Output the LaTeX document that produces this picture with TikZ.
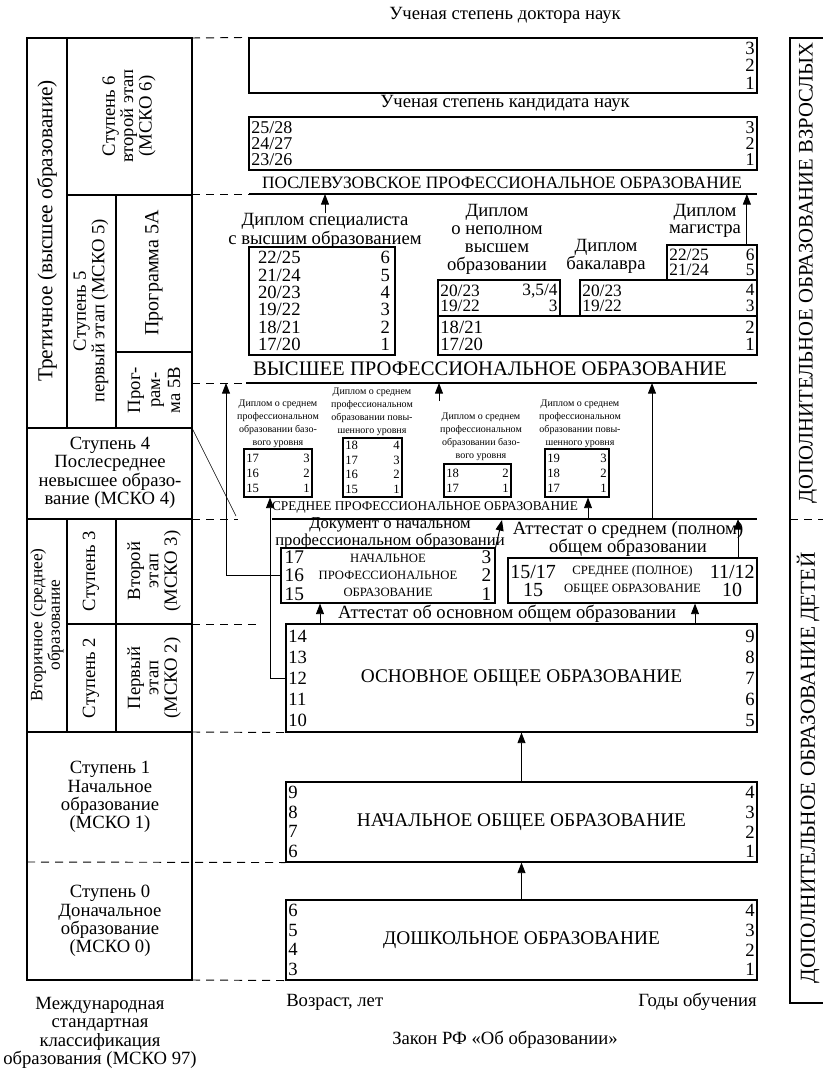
\documentclass[tikz,border=0pt]{standalone}
\usepackage{fontspec}
\setmainfont{Liberation Serif}
\usetikzlibrary{arrows.meta,fit}

\newcommand{\fsz}[2]{\fontsize{#1}{#2}\selectfont}

\tikzset{frame/.style = {draw, line width=0.9pt},
	box/.style   = {draw, line width=0.8pt, inner sep=0pt},
	line/.style  = {draw, line width=0.7pt, -{Triangle[length=8pt,width=6pt]}},
	rule/.style  = {draw, line width=0.8pt},
	sep/.style   = {draw, line width=0.7pt, dash pattern=on 6pt off 4.5pt},
	lab/.style   = {align=center, inner sep=0pt, font=\fsz{14}{13.8}},
	nums/.style  = {align=left, inner sep=2pt, anchor=west},
	numr/.style  = {align=right, inner sep=2pt, anchor=east},
	small/.style = {align=center, inner sep=0pt, font=\fsz{7.5}{9.75}}
}

\begin{document}
\begin{tikzpicture}[x=0.75pt, y=-0.75pt]
	\useasboundingbox (0,0) rectangle (823,1069);
	%% left column: MSKO 97
	\draw[frame] (27,38) rectangle (192,980);
	\draw[frame] (67,38) -- (67,428) (67,195) -- (192,195) (116,195) -- (116,428)
		(116,352) -- (192,352) (27,428) -- (192,428) (27,519) -- (192,519)
		(67,519) -- (67,732) (116,519) -- (116,732) (67,624) -- (192,624) (27,732) -- (192,732);
	\node[lab, rotate=90, font=\fsz{16}{16}] (tert) at (47,231) {Третичное (высшее образование)};
	\node[lab, rotate=90] (st6) at (129,116) {Ступень 6\\второй этап\\(МСКО 6)};
	\node[lab, rotate=90] (st5) at (91,311) {Ступень 5\\первый этап (МСКО 5)};
	\node[lab, rotate=90, font=\fsz{15}{14}] (p5a) at (154,273) {Программа 5А};
	\node[lab, rotate=90, font=\fsz{14}{15}] (p5b) at (154,390) {Прог-\\рам-\\ма 5В};
	\node[lab] (st4) at (110,473) {Ступень 4\\Послесреднее\\невысшее образо-\\вание (МСКО 4)};
	\node[lab, rotate=90, font=\fsz{13}{12}] (vtor) at (47,625) {Вторичное (среднее)\\образование};
	\node[lab, rotate=90] (st3) at (91,571) {Ступень 3};
	\node[lab, rotate=90] (et2) at (154,571) {Второй\\этап\\(МСКО 3)};
	\node[lab, rotate=90] (st2) at (91,678) {Ступень 2};
	\node[lab, rotate=90] (et1) at (154,678) {Первый\\этап\\(МСКО 2)};
	\node[lab] (st1) at (110,797) {Ступень 1\\Начальное\\образование\\(МСКО 1)};
	\node[lab] (st0) at (110,921) {Ступень 0\\Доначальное\\образование\\(МСКО 0)};
	\node[lab] (msko) at (100,1033) {Международная\\стандартная\\классификация\\образования (МСКО 97)};
	\draw (192,428) -- (236,516);

	%% right column
	\draw[frame] (823,38) -| (790,1003) -- (823,1003);
	\draw[sep] (790,519) -- (823,519);
	\node[lab, rotate=90, font=\fsz{15.5}{15}] (dop-a) at (808,273) {ДОПОЛНИТЕЛЬНОЕ ОБРАЗОВАНИЕ ВЗРОСЛЫХ};
	\node[lab, rotate=90, font=\fsz{16}{16}] (dop-c) at (808,768) {ДОПОЛНИТЕЛЬНОЕ ОБРАЗОВАНИЕ ДЕТЕЙ};

	%% postgraduate
	\node[lab] (dr-t) at (505,15) {Ученая степень доктора наук};
	\node[box, fit={(249,38) (757,93)}] (dr) {};
	\node[numr, font=\fsz{14}{13}] (dr-r) at (dr.east) {3\\2\\1};
	\node[lab] (ca-t) at (505,103) {Ученая степень кандидата наук};
	\node[box, fit={(249,117) (757,170)}] (ca) {};
	\node[nums, font=\fsz{13.5}{12}] (ca-l) at (ca.west) {25/28\\24/27\\23/26};
	\node[numr, font=\fsz{13.5}{12}] (ca-r) at (ca.east) {3\\2\\1};
	\node[lab, font=\fsz{13}{13}] (pv-t) at (502,183) {ПОСЛЕВУЗОВСКОЕ ПРОФЕССИОНАЛЬНОЕ ОБРАЗОВАНИЕ};
	\coordinate (pv-l) at (249,194);
	\coordinate (pv-r) at (757,194);
	\path[rule] (pv-l) -- (pv-r);

	%% higher education
	\node[lab, font=\fsz{14}{12.8}] (sp-t) at (325,231) {Диплом специалиста\\с высшим образованием};
	\node[box, fit={(249,247) (395,355)}] (sp) {};
	\node[nums, font=\fsz{14}{13}, xshift=5pt] (sp-l) at (sp.west) {22/25\\21/24\\20/23\\19/22\\18/21\\17/20};
	\node[numr, font=\fsz{14}{13}, xshift=-2pt] (sp-r) at (sp.east) {6\\5\\4\\3\\2\\1};
	\node[lab, font=\fsz{14}{13.5}] (np-t) at (497,239) {Диплом\\о неполном\\высшем\\образовании};
	\node[box, fit={(438,280) (560,316)}] (np) {};
	\node[nums, font=\fsz{13}{11.5}] (np-l) at (np.west) {20/23\\19/22};
	\node[numr, font=\fsz{13}{11.5}] (np-r) at (np.east) {3,5/4\\3};
	\node[lab, font=\fsz{14}{13.5}] (ba-t) at (606,256) {Диплом\\бакалавра};
	\node[box, fit={(580,280) (757,316)}] (ba) {};
	\node[nums, font=\fsz{13}{11.5}] (ba-l) at (ba.west) {20/23\\19/22};
	\node[numr, font=\fsz{13}{11.5}] (ba-r) at (ba.east) {4\\3};
	\node[lab, font=\fsz{14}{13}] (ma-t) at (705,221) {Диплом\\магистра};
	\node[box, fit={(667,245) (757,280)}] (ma) {};
	\node[nums, font=\fsz{13}{11.5}] (ma-l) at (ma.west) {22/25\\21/24};
	\node[numr, font=\fsz{13}{11.5}] (ma-r) at (ma.east) {6\\5};
	\node[box, fit={(438,316) (757,355)}] (bb) {};
	\node[nums, font=\fsz{14}{12.7}] (bb-l) at (bb.west) {18/21\\17/20};
	\node[numr, font=\fsz{14}{12.7}] (bb-r) at (bb.east) {2\\1};
	\coordinate (ma-a) at ([xshift=-8pt]ma.north east);
	\path[line] (sp-t.north) -- (sp-t.north |- pv-l);
	\path[line] (ma-a) -- (ma-a |- pv-l);
	\node[lab, font=\fsz{15.5}{15}] (vp-t) at (490,369) {ВЫСШЕЕ ПРОФЕССИОНАЛЬНОЕ ОБРАЗОВАНИЕ};
	\coordinate (vp-l) at (246,383);
	\coordinate (vp-r) at (757,383);
	\path[rule] (vp-l) -- (vp-r);

	%% secondary vocational
	\node[small] (d1-t) at (278,424) {Диплом о среднем\\профессиональном\\образовании базо-\\вого уровня};
	\node[box, fit={(244,449) (312,497)}] (d1) {};
	\node[nums, font=\fsz{9.5}{11.2}] (d1-l) at (d1.west) {17\\16\\15};
	\node[numr, font=\fsz{9.5}{11.2}] (d1-r) at (d1.east) {3\\2\\1};
	\node[small] (d2-t) at (372,412) {Диплом о среднем\\профессиональном\\образовании повы-\\шенного уровня};
	\node[box, fit={(343,438) (402,497)}] (d2) {};
	\node[nums, font=\fsz{9.5}{10.9}] (d2-l) at (d2.west) {18\\17\\16\\15};
	\node[numr, font=\fsz{9.5}{10.9}] (d2-r) at (d2.east) {4\\3\\2\\1};
	\node[small] (d3-t) at (481,437) {Диплом о среднем\\профессиональном\\образовании базо-\\вого уровня};
	\node[box, fit={(444,464) (511,497)}] (d3) {};
	\node[nums, font=\fsz{9.5}{11.2}] (d3-l) at (d3.west) {18\\17};
	\node[numr, font=\fsz{9.5}{11.2}] (d3-r) at (d3.east) {2\\1};
	\node[small] (d4-t) at (580,424) {Диплом о среднем\\профессиональном\\образовании повы-\\шенного уровня};
	\node[box, fit={(545,449) (609,497)}] (d4) {};
	\node[nums, font=\fsz{9.5}{11.2}] (d4-l) at (d4.west) {19\\18\\17};
	\node[numr, font=\fsz{9.5}{11.2}] (d4-r) at (d4.east) {3\\2\\1};
	\node[lab, font=\fsz{10}{10}] (so-t) at (425,507) {СРЕДНЕЕ ПРОФЕССИОНАЛЬНОЕ ОБРАЗОВАНИЕ};
	\coordinate (so-l) at (272,519);
	\coordinate (so-r) at (757,519);
	\path[rule] (so-l) -- (so-r);

	%% school and initial vocational
	\node[lab, font=\fsz{12.5}{10.2}] (dnp-t) at (390,533) {Документ о начальном\\профессиональном образовании};
	\node[box, fit={(281,548) (495,603)}] (npo) {};
	\node[nums, inner sep=0pt, xshift=3pt, font=\fsz{14.5}{13.8}] (npo-l) at (npo.west) {17\\16\\15};
	\node[align=center, font=\fsz{9.5}{12.7}] (npo-c) at (388,575) {НАЧАЛЬНОЕ\\ПРОФЕССИОНАЛЬНОЕ\\ОБРАЗОВАНИЕ};
	\node[numr, inner sep=0pt, xshift=-3pt, font=\fsz{14.5}{13.8}] (npo-r) at (npo.east) {3\\2\\1};
	\node[lab, font=\fsz{14}{12}] (ass-t) at (628,539) {Аттестат о среднем (полном)\\общем образовании};
	\node[box, fit={(508,558) (757,603)}] (sso) {};
	\node[align=center, anchor=west, inner sep=2pt, font=\fsz{15}{13.5}] (sso-l) at (sso.west) {15/17\\15};
	\node[align=center, font=\fsz{9.5}{13.5}] (sso-c) at (sso.center) {СРЕДНЕЕ (ПОЛНОЕ)\\ОБЩЕЕ ОБРАЗОВАНИЕ};
	\node[align=center, anchor=east, inner sep=2pt, font=\fsz{15}{13.5}] (sso-r) at (sso.east) {11/12\\10};
	\node[lab] (aoo-t) at (507,614) {Аттестат об основном общем образовании};
	\node[box, fit={(286,624) (757,732)}] (ooo) {};
	\node[nums, font=\fsz{14}{15.75}] (ooo-l) at (ooo.west) {14\\13\\12\\11\\10};
	\node[lab, font=\fsz{14.5}{14}] (ooo-c) at (ooo.center) {ОСНОВНОЕ ОБЩЕЕ ОБРАЗОВАНИЕ};
	\node[numr, font=\fsz{14}{15.75}] (ooo-r) at (ooo.east) {9\\8\\7\\6\\5};
	\node[box, fit={(286,782) (757,862)}] (noo) {};
	\node[nums, font=\fsz{14}{14.8}] (noo-l) at (noo.west) {9\\8\\7\\6};
	\node[lab, font=\fsz{14.5}{14}] (noo-c) at (noo.center) {НАЧАЛЬНОЕ ОБЩЕЕ ОБРАЗОВАНИЕ};
	\node[numr, font=\fsz{14}{14.8}] (noo-r) at (noo.east) {4\\3\\2\\1};
	\node[box, fit={(286,900) (757,980)}] (do) {};
	\node[nums, font=\fsz{14}{14.8}] (do-l) at (do.west) {6\\5\\4\\3};
	\node[lab, font=\fsz{14.5}{14}] (do-c) at (do.center) {ДОШКОЛЬНОЕ ОБРАЗОВАНИЕ};
	\node[numr, font=\fsz{14}{14.8}] (do-r) at (do.east) {4\\3\\2\\1};
	\node[lab, anchor=west] (age) at (286,1002) {Возраст, лет};
	\node[lab, anchor=east] (yrs) at (757,1002) {Годы обучения};
	\node[lab] (law) at (505,1040) {Закон РФ «Об образовании»};

	%% dashed level marks
	\draw[sep] (192,38) -- (dr.north west);
	\draw[sep] (192,194) -- (pv-l);
	\draw[sep] (192,383) -- (vp-l);
	\draw[sep] (192,519) -- (238,519);
	\draw[sep] (192,624) -- (262,624);
	\draw[sep] (192,732) -- (ooo.south west);
	\draw[sep] (27,862) -- (noo.south west);
	\draw[sep] (192,980) -- (do.south west);

	%% arrows
	\coordinate (np-a) at (226,0);
	\coordinate (oo-a) at (270,0);
	\coordinate (up-a) at (439,401);
	\coordinate (np-d) at (502,520);
	\coordinate (d4-a) at (588,0);
	\coordinate (so-a) at (652,0);
	\coordinate (ss-a) at (738,0);
	\coordinate (at-a) at (320,0);
	\coordinate (at-b) at (695,0);
	\path[line] (npo.west) -| (np-a |- vp-l);
	\path[line] (ooo.west) -| (oo-a |- d1.south);
	\path[line] (up-a) -- (up-a |- vp-l);
	\path[line] (npo.north east) -- (np-d);
	\path[line] (d4-a |- so-l) -- (d4-a |- d4.south);
	\path[line] (so-a |- so-l) -- (so-a |- vp-l);
	\path[line] (ss-a |- sso.north) -- (ss-a |- so-l);
	\path[line] (at-a |- ooo.north) -- (at-a |- npo.south);
	\path[line] (at-b |- ooo.north) -- (at-b |- sso.south);
	\path[line] (noo.north) -- (ooo.south);
	\path[line] (do.north) -- (noo.south);
\end{tikzpicture}
\end{document}
